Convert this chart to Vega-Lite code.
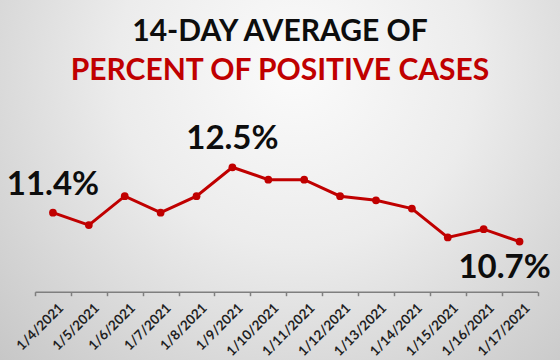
{
  "$schema": "https://vega.github.io/schema/vega-lite/v6.json",
  "width": 560,
  "height": 360,
  "autosize": {"type": "none"},
  "padding": 0,
  "background": "#c8c8c8",
  "view": {
    "stroke": null,
    "fill": {
      "gradient": "radial",
      "x1": 0.53, "y1": 0.3, "r1": 0,
      "x2": 0.53, "y2": 0.3, "r2": 0.8,
      "stops": [
        {"offset": 0, "color": "#fbfbfb"},
        {"offset": 0.4, "color": "#ececec"},
        {"offset": 1, "color": "#c2c2c2"}
      ]
    }
  },
  "title": {
    "text": "14-DAY AVERAGE OF",
    "subtitle": "PERCENT OF POSITIVE CASES",
    "anchor": "middle",
    "frame": "group",
    "font": "Lato",
    "fontSize": 30,
    "fontWeight": "bold",
    "color": "#0d0d0d",
    "subtitleFont": "Lato",
    "subtitleFontSize": 30,
    "subtitleFontWeight": "bold",
    "subtitleColor": "#C00000",
    "subtitlePadding": 9,
    "offset": -86
  },
  "data": {
    "values": [
      {"date": "1/4/2021", "pct": 0.114},
      {"date": "1/5/2021", "pct": 0.111},
      {"date": "1/6/2021", "pct": 0.118},
      {"date": "1/7/2021", "pct": 0.114},
      {"date": "1/8/2021", "pct": 0.118},
      {"date": "1/9/2021", "pct": 0.125},
      {"date": "1/10/2021", "pct": 0.122},
      {"date": "1/11/2021", "pct": 0.122},
      {"date": "1/12/2021", "pct": 0.118},
      {"date": "1/13/2021", "pct": 0.117},
      {"date": "1/14/2021", "pct": 0.115},
      {"date": "1/15/2021", "pct": 0.108},
      {"date": "1/16/2021", "pct": 0.110},
      {"date": "1/17/2021", "pct": 0.107}
    ]
  },
  "encoding": {
    "x": {
      "field": "date",
      "type": "ordinal",
      "sort": null,
      "scale": {"type": "band", "range": [35, 537.5], "paddingInner": 0, "paddingOuter": 0},
      "axis": {
        "title": null,
        "offset": -68.3,
        "tickBand": "extent",
        "labelAngle": -45,
        "labelAlign": "right",
        "labelBaseline": "top",
        "labelFont": "Lato",
        "labelFontWeight": "bold",
        "labelFontSize": 13.5,
        "labelColor": "#1f1f1f",
        "labelPadding": 5,
        "labelOffset": 3,
        "domainColor": "#7f7f7f",
        "domainWidth": 1.5,
        "tickColor": "#7f7f7f",
        "tickWidth": 1.5,
        "tickSize": 4,
        "grid": false
      }
    },
    "y": {
      "field": "pct",
      "type": "quantitative",
      "scale": {"domain": [0.07833, 0.1655], "zero": false, "nice": false},
      "axis": null
    }
  },
  "layer": [
    {"mark": {"type": "line", "color": "#C00000", "strokeWidth": 3}},
    {"mark": {"type": "point", "filled": true, "color": "#C00000", "size": 60, "opacity": 1}},
    {
      "transform": [{"filter": "datum.date == '1/4/2021' || datum.date == '1/9/2021'"}],
      "mark": {"type": "text", "font": "Lato", "fontWeight": "bold", "fontSize": 33, "color": "#0d0d0d", "baseline": "alphabetic", "dy": -18},
      "encoding": {"text": {"field": "pct", "type": "quantitative", "format": ".1%"}}
    },
    {
      "transform": [{"filter": "datum.date == '1/17/2021'"}],
      "mark": {"type": "text", "font": "Lato", "fontWeight": "bold", "fontSize": 33, "color": "#0d0d0d", "baseline": "alphabetic", "dx": -15, "dy": 36},
      "encoding": {"text": {"field": "pct", "type": "quantitative", "format": ".1%"}}
    }
  ]
}
